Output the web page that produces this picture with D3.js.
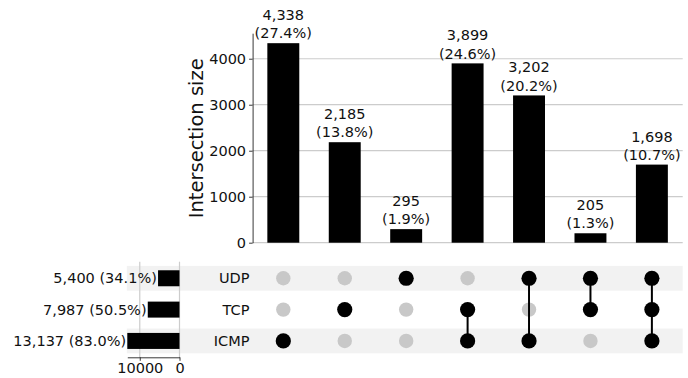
<!DOCTYPE html>
<html>
<head>
<meta charset="utf-8">
<script src="https://cdn.jsdelivr.net/npm/d3@7"></script>
<style>
  html, body { margin: 0; padding: 0; background: #fff; }
  svg { display: block; font-family: "DejaVu Sans", sans-serif; }
</style>
</head>
<body>
<svg id="chart" width="688" height="378"></svg>
<script>
// Sets shown as matrix rows (top to bottom)
const sets = ["UDP", "TCP", "ICMP"];
// Size of each set
const setTotals = [5400, 7987, 13137];
// Intersections, in column order: member sets and their sizes
const intersectionMembers = [
  ["ICMP"],
  ["TCP"],
  ["UDP"],
  ["TCP", "ICMP"],
  ["UDP", "ICMP"],
  ["UDP", "TCP"],
  ["UDP", "TCP", "ICMP"]
];
const intersectionSizes = [4338, 2185, 295, 3899, 3202, 205, 1698];
const sizeTicks = [0, 1000, 2000, 3000, 4000];
const totalTicks = [10000, 0];

const total = d3.sum(intersectionSizes);
const fmt = d3.format(",");
const pct = v => "(" + (100 * v / total).toFixed(1) + "%)";

const svg = d3.select("#chart");
const FS = 14.5;
const gridColor = "#cccccc";

// ---- scales ----
const cols = intersectionSizes.map((d, i) => i);
const x = d3.scaleBand().domain(cols).range([252.6, 682.6])
  .paddingInner(0.48).paddingOuter(0.24);
const y = d3.scaleLinear().domain([0, 4555]).range([242.7, 33.2]);
const row = d3.scaleBand().domain(sets).range([262.6, 356.6]);
const xt = d3.scaleLinear().domain([0, 13137]).range([179.5, 127.3]);

// ---- matrix row shading ----
svg.append("g").selectAll("rect")
  .data(sets.filter((s, i) => i % 2 === 0))
  .join("rect")
  .attr("x", xt(13137) - 0.5)
  .attr("width", 682.7 - xt(13137) + 0.5)
  .attr("y", d => row(d) + row.bandwidth() / 2 - 12.4)
  .attr("height", 24.8)
  .attr("fill", "#f2f2f2");

// ---- intersection size chart ----
const gGrid = svg.append("g");
gGrid.selectAll("line")
  .data(sizeTicks)
  .join("line")
  .attr("x1", 252.6).attr("x2", 682.7)
  .attr("y1", d => y(d)).attr("y2", d => y(d))
  .attr("stroke", gridColor).attr("stroke-width", 1.2);

svg.append("g").selectAll("rect")
  .data(intersectionSizes)
  .join("rect")
  .attr("x", (d, i) => x(i))
  .attr("width", x.bandwidth())
  .attr("y", d => y(d))
  .attr("height", d => y(0) - y(d))
  .attr("fill", "#000");

const labels = svg.append("g")
  .attr("font-size", FS).attr("fill", "#111").attr("text-anchor", "middle");
intersectionSizes.forEach((v, i) => {
  const cx = x(i) + x.bandwidth() / 2;
  labels.append("text").attr("x", cx).attr("y", y(v) - 23).text(fmt(v));
  labels.append("text").attr("x", cx).attr("y", y(v) - 4.8).text(pct(v));
});

const yAxis = svg.append("g")
  .attr("transform", "translate(252.6,0)")
  .call(d3.axisLeft(y).tickValues(sizeTicks).tickSize(3.5).tickPadding(3).tickSizeOuter(0).tickFormat(d3.format("d")));
yAxis.selectAll("text").attr("font-size", FS).attr("font-family", "DejaVu Sans").attr("fill", "#111");
yAxis.selectAll("line,path").attr("stroke", "#222").attr("stroke-width", 0.9);

svg.append("text")
  .attr("transform", "translate(203,138.3) rotate(-90)")
  .attr("text-anchor", "middle")
  .attr("font-size", 19.5)
  .attr("fill", "#111")
  .text("Intersection size");

// ---- set totals ----
svg.append("g").selectAll("line")
  .data(totalTicks)
  .join("line")
  .attr("x1", d => xt(d)).attr("x2", d => xt(d))
  .attr("y1", 261.7).attr("y2", 357.3)
  .attr("stroke", gridColor).attr("stroke-width", 1.2);

const barH = 16;
svg.append("g").selectAll("rect")
  .data(setTotals)
  .join("rect")
  .attr("x", d => xt(d))
  .attr("width", d => xt(0) - xt(d))
  .attr("y", (d, i) => row(sets[i]) + row.bandwidth() / 2 - barH / 2)
  .attr("height", barH)
  .attr("fill", "#000");

svg.append("g").selectAll("text")
  .data(setTotals)
  .join("text")
  .attr("x", d => xt(d) - 1.2)
  .attr("y", (d, i) => row(sets[i]) + row.bandwidth() / 2)
  .attr("dy", "0.35em")
  .attr("text-anchor", "end")
  .attr("font-size", FS)
  .attr("fill", "#111")
  .text(d => fmt(d) + " " + pct(d));

const tAxis = svg.append("g")
  .attr("transform", "translate(0,357.3)")
  .call(d3.axisBottom(xt).tickValues(totalTicks).tickSize(3.5).tickPadding(2).tickSizeOuter(0).tickFormat(d3.format("d")));
tAxis.selectAll("text").attr("font-size", FS).attr("font-family", "DejaVu Sans").attr("fill", "#111");
tAxis.selectAll("line,path").attr("stroke", "#222").attr("stroke-width", 0.9);

// ---- set names ----
svg.append("g").selectAll("text")
  .data(sets)
  .join("text")
  .attr("x", 249.5)
  .attr("y", d => row(d) + row.bandwidth() / 2)
  .attr("dy", "0.35em")
  .attr("text-anchor", "end")
  .attr("font-size", FS)
  .attr("fill", "#111")
  .text(d => d);

// ---- membership matrix ----
const rowY = s => row(s) + row.bandwidth() / 2;
const matrix = svg.append("g");
intersectionMembers.forEach((members, i) => {
  const cx = x(i) + x.bandwidth() / 2;
  sets.forEach(s => {
    const on = members.includes(s);
    matrix.append("circle")
      .attr("cx", cx).attr("cy", rowY(s))
      .attr("r", on ? 7.6 : 7.2)
      .attr("fill", on ? "#000" : "#c8c8c8");
  });
  if (members.length > 1) {
    const ys = members.map(rowY);
    matrix.append("line")
      .attr("x1", cx).attr("x2", cx)
      .attr("y1", d3.min(ys)).attr("y2", d3.max(ys))
      .attr("stroke", "#000").attr("stroke-width", 2);
  }
});
</script>
</body>
</html>
